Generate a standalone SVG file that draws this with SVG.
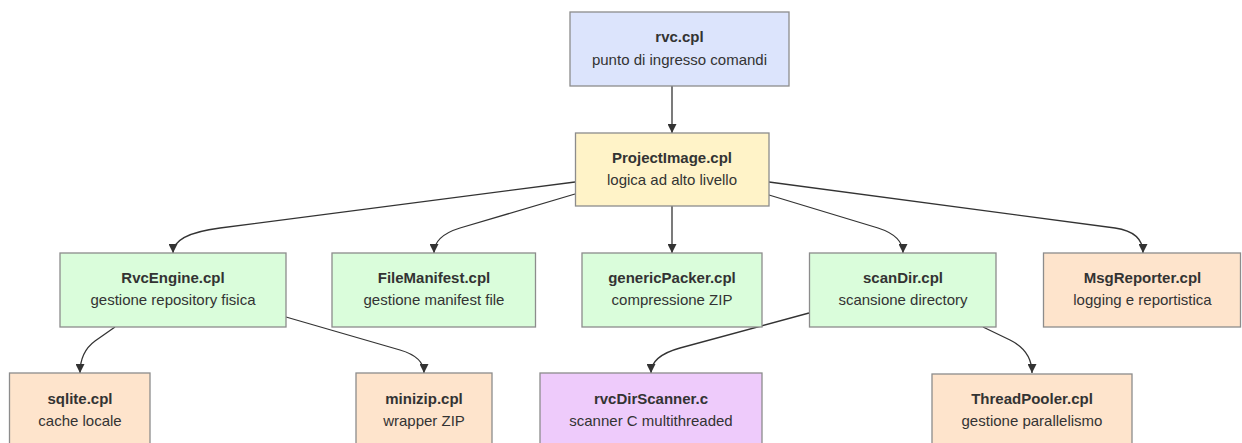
<svg xmlns="http://www.w3.org/2000/svg" width="1242" height="443" viewBox="0 0 1242 443">
<style>
  .box { stroke: #8c8c8c; stroke-width: 1.3; }
  .blue { fill: #dce4fc; }
  .yellow { fill: #fff3c8; }
  .green { fill: #dafddb; }
  .orange { fill: #fee4cc; }
  .purple { fill: #eecbfb; }
  .t { font-family: "Liberation Sans", Arial, sans-serif; font-size: 15px; fill: #333333; text-anchor: middle; }
  .b { font-weight: bold; }
  .edge { fill: none; stroke: #333333; stroke-width: 1.3; marker-end: url(#arrow); }
</style>
<defs>
  <marker id="arrow" viewBox="0 0 10 10" refX="10" refY="5" markerUnits="userSpaceOnUse" markerWidth="9" markerHeight="9" orient="auto">
    <path d="M0,0 L10,5 L0,10 z" fill="#333333"/>
  </marker>
</defs>
<rect width="1242" height="443" fill="#ffffff"/>
<g id="connectors">
  <path class="edge" d="M672,86 L672,133"/>
  <path class="edge" d="M575,182 L220,228 Q173,234 173,253"/>
  <path class="edge" d="M575,194 L460,228 Q434,236 434,253"/>
  <path class="edge" d="M672,206 L672,253"/>
  <path class="edge" d="M769,195 L878,228 Q903,236 903,253"/>
  <path class="edge" d="M769,182 L1115,228 Q1143,232 1143,253"/>
  <path class="edge" d="M115,327 L95,341 Q80,352 80,373"/>
  <path class="edge" d="M286,317 L400,350 Q424,357 424,373"/>
  <path class="edge" d="M809,313 L680,348 Q651,356 651,373"/>
  <path class="edge" d="M983,327 L1010,340 Q1032,351 1032,373"/>
</g>
<g id="rvc">
  <rect class="box blue" x="570" y="12" width="219" height="74"/>
  <text class="t b" x="679.5" y="42">rvc.cpl</text>
  <text class="t" x="679.5" y="65">punto di ingresso comandi</text>
</g>
<g id="ProjectImage">
  <rect class="box yellow" x="575.5" y="133" width="193.5" height="73"/>
  <text class="t b" x="672" y="163">ProjectImage.cpl</text>
  <text class="t" x="672" y="185">logica ad alto livello</text>
</g>
<g id="RvcEngine">
  <rect class="box green" x="60" y="253" width="226" height="74"/>
  <text class="t b" x="173" y="283">RvcEngine.cpl</text>
  <text class="t" x="173" y="305">gestione repository fisica</text>
</g>
<g id="FileManifest">
  <rect class="box green" x="332" y="253" width="203.5" height="74"/>
  <text class="t b" x="434" y="283">FileManifest.cpl</text>
  <text class="t" x="434" y="305">gestione manifest file</text>
</g>
<g id="genericPacker">
  <rect class="box green" x="582" y="253" width="180" height="74"/>
  <text class="t b" x="672" y="283">genericPacker.cpl</text>
  <text class="t" x="672" y="305">compressione ZIP</text>
</g>
<g id="scanDir">
  <rect class="box green" x="809.5" y="253" width="186.5" height="74"/>
  <text class="t b" x="903" y="283">scanDir.cpl</text>
  <text class="t" x="903" y="305">scansione directory</text>
</g>
<g id="MsgReporter">
  <rect class="box orange" x="1043.5" y="253" width="197" height="74"/>
  <text class="t b" x="1142.5" y="283">MsgReporter.cpl</text>
  <text class="t" x="1142.5" y="305">logging e reportistica</text>
</g>
<g id="sqlite">
  <rect class="box orange" x="9.5" y="373" width="140.5" height="74"/>
  <text class="t b" x="80" y="404">sqlite.cpl</text>
  <text class="t" x="80" y="426">cache locale</text>
</g>
<g id="minizip">
  <rect class="box orange" x="356" y="373" width="136" height="74"/>
  <text class="t b" x="424" y="404">minizip.cpl</text>
  <text class="t" x="424" y="426">wrapper ZIP</text>
</g>
<g id="rvcDirScanner">
  <rect class="box purple" x="540" y="373" width="222" height="74"/>
  <text class="t b" x="651" y="404">rvcDirScanner.c</text>
  <text class="t" x="651" y="426">scanner C multithreaded</text>
</g>
<g id="ThreadPooler">
  <rect class="box orange" x="932" y="374" width="200" height="74"/>
  <text class="t b" x="1032" y="404">ThreadPooler.cpl</text>
  <text class="t" x="1032" y="426">gestione parallelismo</text>
</g>
</svg>
